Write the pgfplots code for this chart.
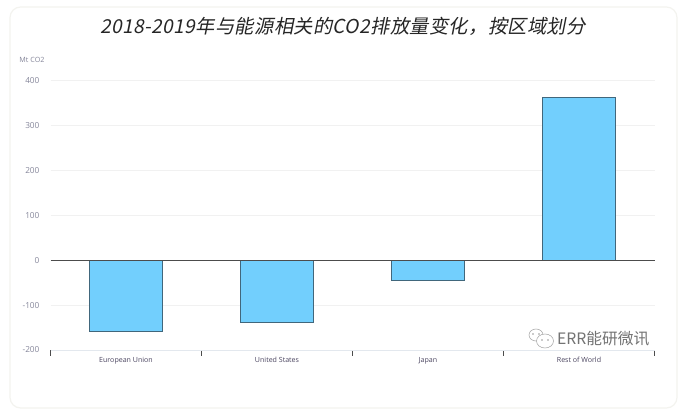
\documentclass[border=0pt]{standalone}
\usepackage{pgfplots}
\pgfplotsset{compat=1.18}
\usepackage{fontspec}
\setmainfont{Open Sans}
\newfontfamily\cjk{Noto Sans CJK SC}
\newfontfamily\titlefont[FakeSlant=0.2,LetterSpace=2]{Noto Sans CJK SC}
\definecolor{barblue}{HTML}{72CFFD}
\definecolor{baredge}{HTML}{41677C}
\definecolor{gridc}{HTML}{F1F1F1}
\definecolor{ticktxt}{HTML}{85869A}
\definecolor{cattxt}{HTML}{4B4560}
\definecolor{cardline}{HTML}{F3F3EF}
\definecolor{axisline}{HTML}{E3E8EE}
\pgfplotstableread{
pos value
0 -158
1 -138
2 -46
3 362
}\co
\begin{document}
\begin{tikzpicture}[x=0.75pt,y=0.75pt]
% page and card, positions in reference pixels (y from the bottom)
\fill[white] (0,0) rectangle (678,420);
\draw[cardline,line width=0.9pt,rounded corners=8pt,fill=white] (10,12) rectangle (677,413);
\node[font=\titlefont\fontsize{14.4}{16}\selectfont,text=black!85] at (343,394) {2018-2019年与能源相关的CO2排放量变化，按区域划分};
\node[font=\fontsize{5.4}{6}\selectfont,text=ticktxt] at (32,360) {Mt CO2};
\begin{axis}[
    at={(37.875pt,52.5pt)},
    anchor=south west,
    scale only axis,
    width=453pt,
    height=202.1pt,
    xmin=-0.5, xmax=3.5,
    ymin=-200, ymax=400,
    ytick={-200,-100,0,100,200,300,400},
    xtick={0,1,2,3},
    xticklabels={European Union,United States,Japan,Rest of World},
    minor xtick={-0.5,0.5,1.5,2.5,3.5},
    major x tick style={draw=none},
    minor x tick style={draw=black!70,line width=0.6pt},
    minor tick length=4.5pt,
    tick align=outside,
    y tick style={draw=none},
    ymajorgrids,
    grid style={gridc,line width=0.6pt},
    axis x line*=bottom,
    axis y line*=left,
    y axis line style={draw=none},
    x axis line style={draw=axisline,line width=0.6pt,-},
    x tick label style={font=\fontsize{5.3}{6}\selectfont,text=cattxt,yshift=2.2pt},
    y tick label style={font=\fontsize{6.2}{7}\selectfont,text=ticktxt,xshift=-0.5pt},
    /pgf/number format/assume math mode=true,
    clip=false,
    ybar,
    bar width=54.75pt,
]
\addplot[fill=barblue,draw=baredge,line width=0.6pt] table[x=pos,y=value] {\co};
\end{axis}
\draw[black!70,line width=0.6pt] (50.5,160) -- (655,160);
% watermark
\node[font=\cjk\fontsize{11.8}{13}\selectfont,text=black!55,anchor=east] at (654,81) {ERR能研微讯};
\draw[black!35,line width=0.4pt] (536,85) ellipse (7 and 6);
\draw[black!35,line width=0.4pt,fill=white] (545,79) ellipse (8.5 and 7);
\fill[black!40] (533,86) circle (0.8) (539,86) circle (0.8) (542,80) circle (0.8) (548,80) circle (0.8);
\end{tikzpicture}
\end{document}
